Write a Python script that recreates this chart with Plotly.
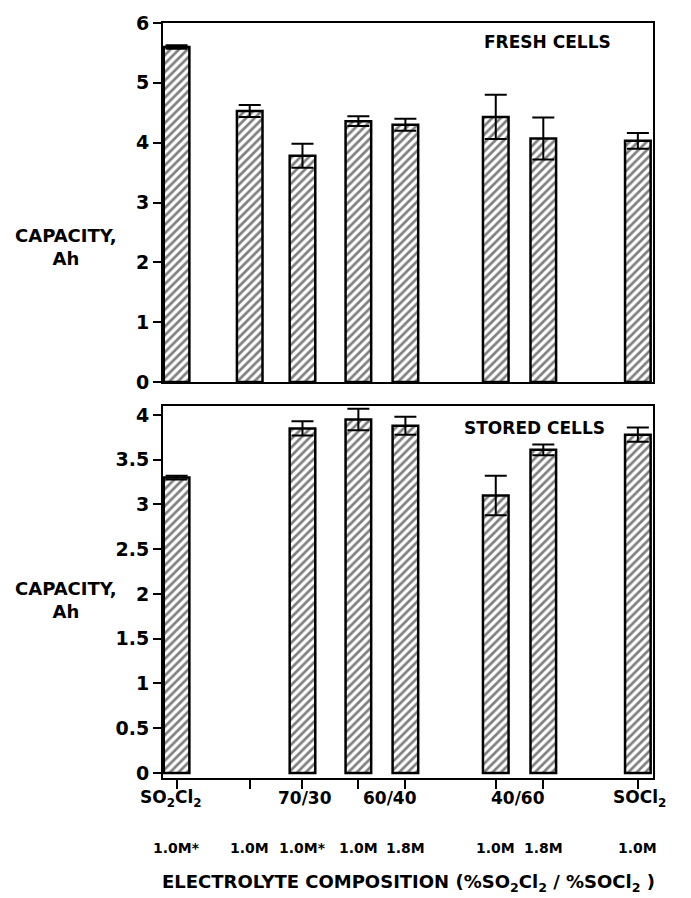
import plotly.graph_objects as go
from plotly.subplots import make_subplots

# ---- data ----
bar_x = [0, 1.40, 2.41, 3.48, 4.38, 6.11, 7.02, 8.83]
concentrations = ["1.0M*", "1.0M", "1.0M*", "1.0M", "1.8M", "1.0M", "1.8M", "1.0M"]
fresh_capacity = [5.60, 4.53, 3.78, 4.36, 4.30, 4.43, 4.07, 4.03]
fresh_error = [0.03, 0.10, 0.20, 0.08, 0.10, 0.37, 0.35, 0.13]
stored_capacity = [3.30, None, 3.85, 3.95, 3.88, 3.10, 3.61, 3.78]
stored_error = [0.02, 0, 0.08, 0.12, 0.10, 0.22, 0.06, 0.08]
composition_labels = ["SO<sub>2</sub>Cl<sub>2</sub>", "70/30", "60/40", "40/60", "SOCl<sub>2</sub>"]
composition_x = [-0.1, 2.46, 4.08, 6.53, 8.87]
fresh_ticks = [0, 1, 2, 3, 4, 5, 6]
stored_ticks = [0, 0.5, 1, 1.5, 2, 2.5, 3, 3.5, 4]
stored_ticktext = ["0", "0.5", "1", "1.5", "2", "2.5", "3", "3.5", "4"]

FONT = "DejaVu Sans"

fig = make_subplots(rows=2, cols=1, shared_xaxes=False, vertical_spacing=0.0)

bar_style = dict(
    color="white",
    line=dict(color="black", width=2.5),
    pattern=dict(shape="/", fgcolor="black", bgcolor="white", size=6, solidity=0.45),
)

fig.add_trace(go.Bar(x=bar_x, y=fresh_capacity, width=0.49, marker=bar_style,
                     error_y=dict(type="data", array=fresh_error, color="black", thickness=2, width=11),
                     showlegend=False), row=1, col=1)
fig.add_trace(go.Bar(x=bar_x, y=stored_capacity, width=0.49, marker=bar_style,
                     error_y=dict(type="data", array=stored_error, color="black", thickness=2, width=11),
                     showlegend=False), row=2, col=1)

xr = [-0.26, 9.12]
fig.update_layout(
    width=683, height=890,
    margin=dict(l=155, r=38, t=15, b=112, autoexpand=False),
    plot_bgcolor="white", paper_bgcolor="white",
    font=dict(family=FONT, color="black"),
    xaxis=dict(domain=[0, 1], range=xr, showline=True, mirror=True, linewidth=2, linecolor="black",
               showticklabels=False, ticks="", showgrid=False, zeroline=False, automargin=False),
    yaxis=dict(domain=[0.5245, 1], range=[0, 6], tickvals=fresh_ticks, showline=True, mirror=True,
               linewidth=2, linecolor="black", ticks="outside", ticklen=8, tickwidth=2,
               tickcolor="black", showgrid=False, zeroline=False, automargin=False,
               tickfont=dict(family=FONT, size=19, color="black", weight="bold")),
    xaxis2=dict(domain=[0, 1], range=xr, showline=True, mirror=True, linewidth=2, linecolor="black",
                tickvals=bar_x, showticklabels=False, ticks="outside", ticklen=9, tickwidth=2,
                tickcolor="black", showgrid=False, zeroline=False, automargin=False),
    yaxis2=dict(domain=[0, 0.4927], range=[-0.056, 4.1], tickvals=stored_ticks, ticktext=stored_ticktext,
                showline=True, mirror=True, linewidth=2, linecolor="black", ticks="outside", ticklen=8,
                tickwidth=2, tickcolor="black", showgrid=False, zeroline=False, automargin=False,
                tickfont=dict(family=FONT, size=19, color="black", weight="bold")),
)
fig.update_layout(margin=dict(b=120))

ann = []
bold = dict(family=FONT, color="black", weight="bold")
ann.append(dict(text="FRESH CELLS", xref="x", yref="y", x=7.1, y=5.68, showarrow=False,
                font=dict(size=17, **bold)))
ann.append(dict(text="STORED CELLS", xref="x2", yref="y2", x=6.85, y=3.85, showarrow=False,
                font=dict(size=17, **bold)))
ann.append(dict(text="CAPACITY,<br>Ah", xref="paper", yref="y", x=0, xshift=-97, y=2.26,
                showarrow=False, xanchor="center", yanchor="middle", font=dict(size=18, **bold)))
ann.append(dict(text="CAPACITY,<br>Ah", xref="paper", yref="y2", x=0, xshift=-97, y=1.93,
                showarrow=False, xanchor="center", yanchor="middle", font=dict(size=18, **bold)))
for lbl, xv in zip(composition_labels, composition_x):
    ann.append(dict(text=lbl, xref="x2", yref="paper", x=xv, y=0, yshift=-20, yanchor="middle",
                    showarrow=False, font=dict(size=17, **bold)))
for lbl, xv in zip(concentrations, bar_x):
    ann.append(dict(text=lbl, xref="x2", yref="paper", x=xv, y=0, yshift=-70, yanchor="middle",
                    showarrow=False, font=dict(size=14, **bold)))
ann.append(dict(text="ELECTROLYTE COMPOSITION (%SO<sub>2</sub>Cl<sub>2</sub> / %SOCl<sub>2</sub> )",
                xref="paper", yref="paper", x=0, xshift=245, y=0, yshift=-105, yanchor="middle",
                xanchor="center", showarrow=False, font=dict(size=18, **bold)))
fig.update_layout(annotations=ann)

fig.write_html("out.html")
